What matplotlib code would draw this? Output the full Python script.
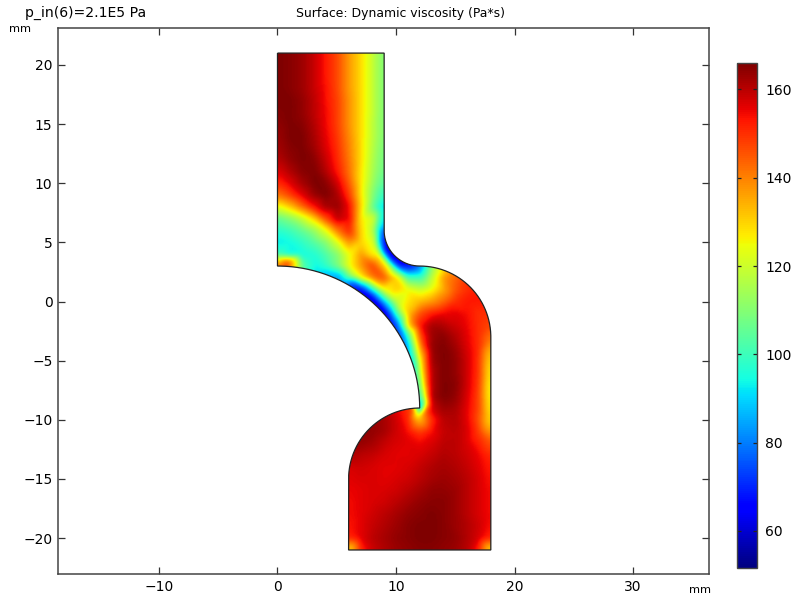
import matplotlib
matplotlib.use("Agg")
import matplotlib.pyplot as plt
import matplotlib.tri as mtri
import numpy as np
from matplotlib.path import Path
from matplotlib.patches import PathPatch

n = np.nan
x_grid = list(range(0, 19))
y_grid = list(range(21, -22, -1))
# viscosity, 1 mm spacing, n = outside the part
visc = [
    [166,165,163,159,153,147,137,129,119,108,n,n,n,n,n,n,n,n,n],
    [166,165,163,159,153,147,137,129,119,108,n,n,n,n,n,n,n,n,n],
    [166,165,163,159,153,147,137,129,119,108,n,n,n,n,n,n,n,n,n],
    [166,165,163,159,154,147,137,129,119,108,n,n,n,n,n,n,n,n,n],
    [166,166,164,160,154,148,138,129,119,108,n,n,n,n,n,n,n,n,n],
    [165,166,164,160,155,148,138,129,119,108,n,n,n,n,n,n,n,n,n],
    [164,166,165,161,155,148,138,129,118,108,n,n,n,n,n,n,n,n,n],
    [163,166,166,162,156,149,139,129,118,108,n,n,n,n,n,n,n,n,n],
    [162,165,166,163,157,150,140,129,117,107,n,n,n,n,n,n,n,n,n],
    [160,164,166,165,159,151,141,129,116,106,n,n,n,n,n,n,n,n,n],
    [156,161,165,166,161,153,142,128,115,105,n,n,n,n,n,n,n,n,n],
    [150,156,162,166,165,158,145,128,113,102,n,n,n,n,n,n,n,n,n],
    [141,148,156,163,166,162,149,128,110,96,n,n,n,n,n,n,n,n,n],
    [122,131,142,153,162,164,155,130,106,86,n,n,n,n,n,n,n,n,n],
    [104,110,118,129,146,160,156,128,98,76,n,n,n,n,n,n,n,n,n],
    [97,100,105,112,123,141,152,130,95,62,n,n,n,n,n,n,n,n,n],
    [92,94,98,103,110,122,138,130,102,58,n,n,n,n,n,n,n,n,n],
    [100,93,94,96,102,110,124,137,126,85,n,n,n,n,n,n,n,n,n],
    [150,145,100,93,98,108,124,137,148,137,118,62,78,n,n,n,n,n,n],
    [n,n,n,n,n,88,105,125,141,146,131,115,98,118,137,146,n,n,n],
    [n,n,n,n,n,n,n,68,95,125,131,125,120,125,135,145,150,n,n],
    [n,n,n,n,n,n,n,n,55,95,118,128,133,137,143,150,153,154,n],
    [n,n,n,n,n,n,n,n,n,55,100,132,146,152,155,156,154,150,n],
    [n,n,n,n,n,n,n,n,n,n,85,130,153,162,161,158,155,150,n],
    [n,n,n,n,n,n,n,n,n,n,n,100,145,163,165,161,156,150,140],
    [n,n,n,n,n,n,n,n,n,n,n,85,135,164,166,163,157,150,132],
    [n,n,n,n,n,n,n,n,n,n,n,n,125,163,166,164,158,149,127],
    [n,n,n,n,n,n,n,n,n,n,n,n,120,161,166,164,158,149,124],
    [n,n,n,n,n,n,n,n,n,n,n,n,118,161,166,165,158,148,122],
    [n,n,n,n,n,n,n,n,n,n,n,n,110,162,166,164,157,147,122],
    [n,n,n,n,n,n,n,n,n,n,n,n,n,158,163,162,156,147,124],
    [n,n,n,n,n,n,n,n,n,160,158,151,132,150,160,161,156,145,127],
    [n,n,n,n,n,n,n,n,164,162,158,154,148,154,159,160,157,148,135],
    [n,n,n,n,n,n,n,164,162,159,157,156,155,157,160,160,157,152,145],
    [n,n,n,n,n,n,n,160,159,157,156,156,157,159,161,160,158,155,150],
    [n,n,n,n,n,n,157,158,157,156,156,157,159,161,162,161,159,156,152],
    [n,n,n,n,n,n,156,157,157,156,157,158,160,162,163,162,160,157,153],
    [n,n,n,n,n,n,155,156,157,157,158,160,162,164,164,163,160,157,154],
    [n,n,n,n,n,n,154,156,157,158,160,162,164,165,165,163,160,157,154],
    [n,n,n,n,n,n,154,156,158,160,162,164,165,166,165,163,160,157,154],
    [n,n,n,n,n,n,153,156,159,161,163,165,166,166,165,163,161,158,153],
    [n,n,n,n,n,n,150,156,160,162,164,165,166,166,165,164,161,157,150],
    [n,n,n,n,n,n,125,150,158,161,163,164,165,165,164,163,160,150,125],
]

# thin bands along the curved walls, read in polar form around each arc centre
arc_deg = [90,87.6,85,80,75,70,65,60,55,50,45,40,35,30,25,20,15,10,5,2]
arc_wall = [150,152,140,105,90,85,78,68,56,52,52,54,60,66,72,80,85,88,85,75]
arc_off = [120,140,140,100,94,95,92,85,78,76,78,82,88,95,105,115,125,130,128,120]
fil_deg = [165,180,195,210,225,240,255,270]
fil_wall = [80,62,55,52,52,55,62,78]
fil_off1 = [98,95,85,75,75,72,78,88]
fil_off2 = [120,118,122,125,125,110,98,100]
out_deg = [90,80,70,60,50,40,30,20,10,0]
out_wall = [78,112,130,143,150,152,153,150,147,140]
low_deg = [100,110,120,135,150,165,180]
low_wall = [150,157,162,164,164,160,156]
# the sharp corner at the throat
tip_x = [12.0,11.9,11.9,12.3,11.5]
tip_y = [-9.05,-9.2,-9.5,-9.3,-9.2]
tip_v = [60,80,115,140,145]

cb_ticks = [60,80,100,120,140,160]
vmin = 51.6
vmax = 166


def polar(cx, cy, r, deg):
    a = np.radians(deg)
    return cx + r*np.cos(a), cy + r*np.sin(a)


xs, ys, vs = [], [], []
def add(px, py, pv):
    xs.extend(np.ravel(px))
    ys.extend(np.ravel(py))
    vs.extend(np.ravel(pv))

add(*polar(0, -9, 12, np.array(arc_deg)), arc_wall)
add(*polar(0, -9, 12.5, np.array(arc_deg)), arc_off)
add(*polar(12, 6, 3, np.array(fil_deg)), fil_wall)
add(*polar(12, 6, 3.5, np.array(fil_deg)), fil_off1)
add(*polar(12, 6, 4, np.array(fil_deg)), fil_off2)
add(*polar(12, -3, 6, np.array(out_deg)), out_wall)
add(*polar(12, -15, 6, np.array(low_deg)), low_wall)
add(tip_x, tip_y, tip_v)
xs_e, ys_e = np.array(xs), np.array(ys)

gx, gy = np.meshgrid(x_grid, y_grid)
g = np.array(visc, dtype=float)
for a, b, c in zip(gx.ravel(), gy.ravel(), g.ravel()):
    if np.isnan(c):
        continue
    if np.min(np.hypot(xs_e-a, ys_e-b)) < 0.3:
        continue
    xs.append(a); ys.append(b); vs.append(c)
xs, ys, vs = np.array(xs, float), np.array(ys, float), np.array(vs, float)

# outline of the part
t1 = np.radians(np.linspace(180, 270, 60))
t2 = np.radians(np.linspace(90, 0, 60))
t3 = np.radians(np.linspace(180, 90, 60))
t4 = np.radians(np.linspace(0, 90, 80))
ox = np.r_[0, 9, 12+3*np.cos(t1), 12+6*np.cos(t2), 18, 6, 12+6*np.cos(t3), 12*np.cos(t4), 0]
oy = np.r_[21, 21, 6+3*np.sin(t1), -3+6*np.sin(t2), -21, -21, -15+6*np.sin(t3), -9+12*np.sin(t4), 21]
part = Path(np.c_[ox, oy])

# shade on a fine raster, softened a little so the 1 mm readings don't show
step = 0.08
rx = np.arange(-0.4, 18.4, step)
ry = np.arange(-21.4, 21.4, step)
mx, my = np.meshgrid(rx, ry)
field = mtri.LinearTriInterpolator(mtri.Triangulation(xs, ys), vs)(mx, my)
inside = part.contains_points(np.c_[mx.ravel(), my.ravel()], radius=0.1).reshape(mx.shape) & ~np.ma.getmaskarray(field)
vals = np.where(inside, np.ma.filled(field, 0.0), 0.0)
k = np.exp(-0.5*(np.arange(-10, 11)*step/0.22)**2)
k /= k.sum()
def blur(a):
    a = np.apply_along_axis(np.convolve, 0, a, k, mode="same")
    return np.apply_along_axis(np.convolve, 1, a, k, mode="same")
smooth = blur(vals)/np.maximum(blur(inside.astype(float)), 1e-6)

W, H = 797, 598
fig = plt.figure(figsize=(W/100, H/100), dpi=100)
ax = fig.add_axes([58/W, 1-574/H, (709-58)/W, (574-28)/H])
im = ax.imshow(smooth, origin="lower", extent=[rx[0], rx[-1], ry[0], ry[-1]], cmap="jet", vmin=vmin, vmax=vmax,
               interpolation="bilinear", aspect="auto")
patch = PathPatch(part, fc="none", ec="#222222", lw=0.9, zorder=3)
ax.add_patch(patch)
im.set_clip_path(patch)

ax.set_xlim(-18.52, 36.41)
ax.set_ylim(-23.03, 23.12)
ax.set_xticks([-10, 0, 10, 20, 30])
ax.set_yticks([-20, -15, -10, -5, 0, 5, 10, 15, 20])
ax.tick_params(direction="in", top=True, right=True, length=5, width=0.9, labelsize=10, color="#333333", pad=4)
for s in ax.spines.values():
    s.set_linewidth(1.1)
    s.set_color("#444444")

fig.text(25/W, 1-13/H, "p_in(6)=2.1E5 Pa", fontsize=10.1, va="center", ha="left")
fig.text(401/W, 1-13/H, "Surface: Dynamic viscosity (Pa*s)", fontsize=8.95, va="center", ha="center")
fig.text(20/W, 1-29/H, "mm", fontsize=8.2, va="center", ha="center")
fig.text(700/W, 1-590/H, "mm", fontsize=8.2, va="center", ha="center")

cax = fig.add_axes([737/W, 1-568/H, 20/W, 505/H])
cb = fig.colorbar(im, cax=cax)
cb.set_ticks(cb_ticks)
cax.tick_params(direction="in", left=True, right=True, length=3, width=0.9, labelsize=10, pad=6, color="#222222")
cb.outline.set_linewidth(1.0)
cb.outline.set_edgecolor("#444444")

fig.savefig("out.png", dpi=100)
